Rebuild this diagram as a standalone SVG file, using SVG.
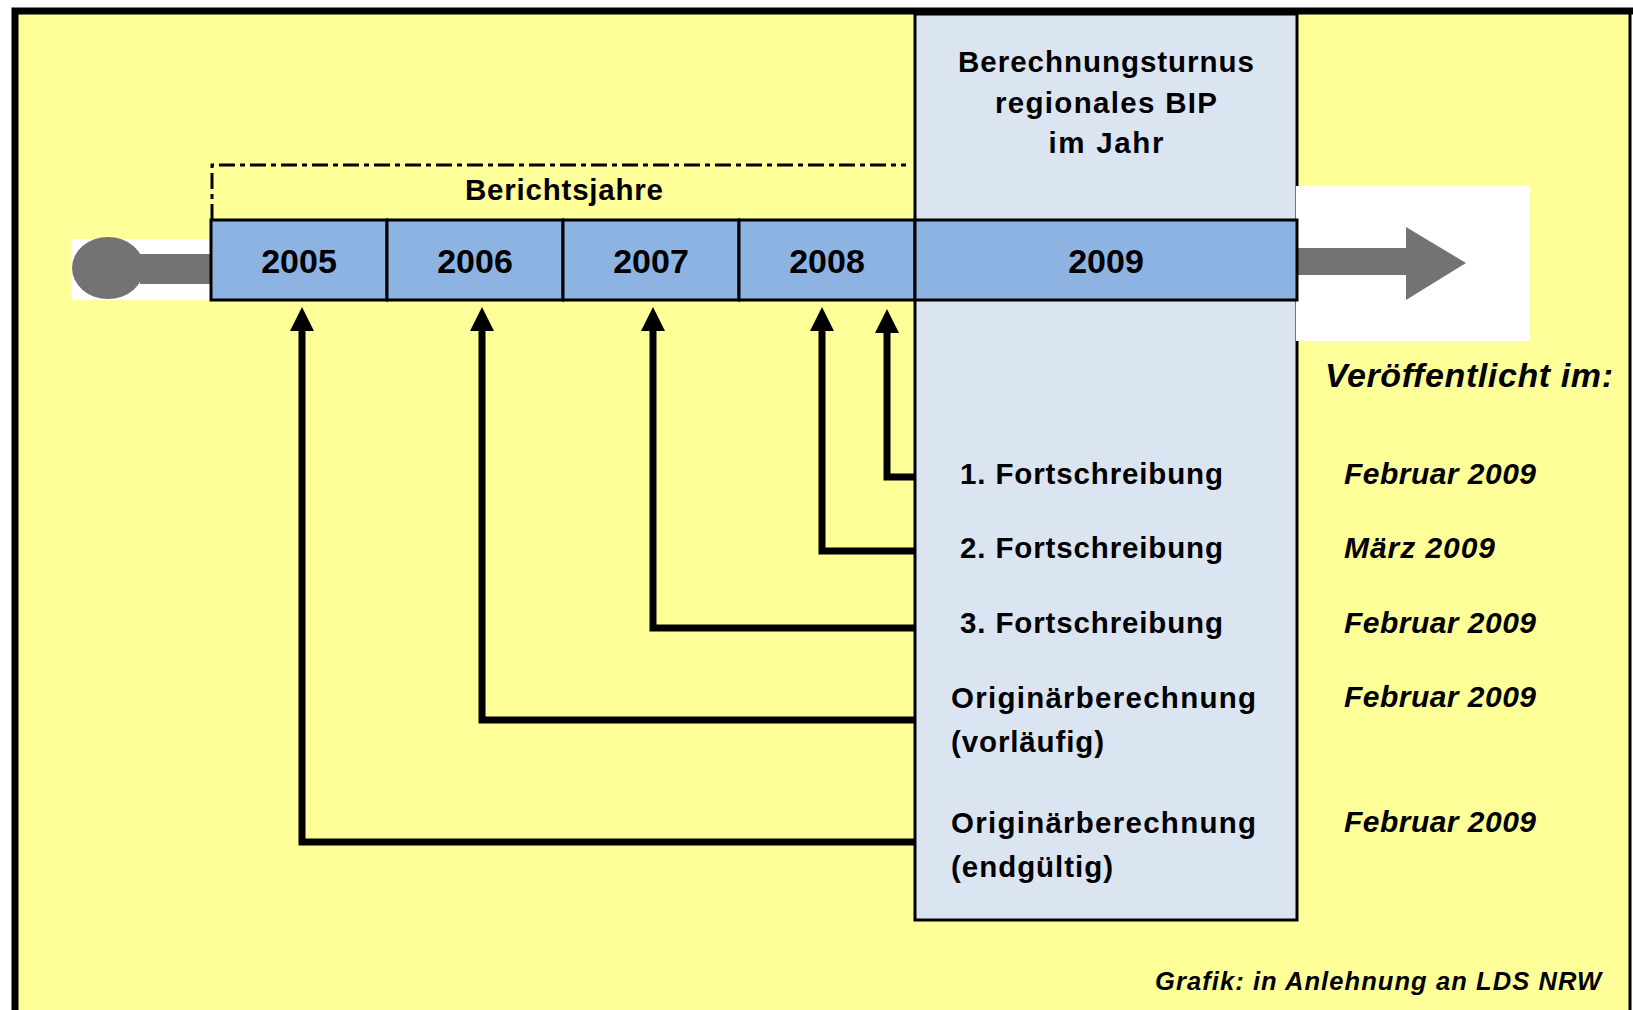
<svg xmlns="http://www.w3.org/2000/svg" width="1633" height="1010" viewBox="0 0 1633 1010">
<style>
.t{font-family:"Liberation Sans",Arial,sans-serif;font-weight:bold;fill:#000}
.yr{font-size:34px;text-anchor:middle}
.lbl{font-size:29.5px}
.pub{font-size:30px;font-style:italic}
.conn{fill:none;stroke:#000;stroke-width:7;stroke-linejoin:miter;marker-end:url(#ah)}
.cell{fill:#8DB3E2;stroke:#000;stroke-width:3}
</style>
<defs>
<marker id="ah" markerUnits="userSpaceOnUse" markerWidth="24" markerHeight="24" viewBox="0 0 23 23" refX="0" refY="11.5" orient="auto">
<path d="M0,0 L23,11.5 L0,23 z" fill="#000"/>
</marker>
</defs>
<rect x="0" y="0" width="1633" height="1010" fill="#fff"/>
<g id="frame">
<rect x="15" y="11" width="1615" height="1010" fill="#FFFF99"/>
<path d="M15,1010 V11 H1633" fill="none" stroke="#000" stroke-width="7"/>
<line x1="1630" y1="11" x2="1630" y2="1010" stroke="#000" stroke-width="3"/>
</g>
<g id="panel-2009">
<rect x="915" y="14" width="382" height="906" fill="#DBE5F1" stroke="#000" stroke-width="3"/>
<text class="t lbl" text-anchor="middle" x="1106" y="72" textLength="296" lengthAdjust="spacing">Berechnungsturnus</text>
<text class="t lbl" text-anchor="middle" x="1106" y="113" textLength="222" lengthAdjust="spacing">regionales BIP</text>
<text class="t lbl" text-anchor="middle" x="1106" y="153" textLength="115" lengthAdjust="spacing">im Jahr</text>
</g>
<g id="berichtsjahre">
<path d="M212,220 V165 H906" fill="none" stroke="#000" stroke-width="3" stroke-dasharray="16 5 5 5"/>
<text class="t lbl" x="465" y="200" textLength="198" lengthAdjust="spacing">Berichtsjahre</text>
</g>
<g id="start-symbol">
<rect x="71" y="239" width="140" height="61" fill="#fff"/>
<ellipse cx="108" cy="268" rx="36" ry="31" fill="#737373"/>
<rect x="140" y="254" width="71" height="30" fill="#737373"/>
</g>
<g id="end-arrow">
<rect x="1296" y="186" width="234" height="155" fill="#fff"/>
<rect x="1296" y="248" width="112" height="27" fill="#737373"/>
<polygon points="1406,227 1466,263 1406,300" fill="#737373"/>
</g>
<g id="timeline">
<g id="y2005"><rect class="cell" x="211" y="220" width="176" height="80"/><text class="t yr" x="299" y="273">2005</text></g>
<g id="y2006"><rect class="cell" x="387" y="220" width="176" height="80"/><text class="t yr" x="475" y="273">2006</text></g>
<g id="y2007"><rect class="cell" x="563" y="220" width="176" height="80"/><text class="t yr" x="651" y="273">2007</text></g>
<g id="y2008"><rect class="cell" x="739" y="220" width="176" height="80"/><text class="t yr" x="827" y="273">2008</text></g>
<g id="y2009"><rect class="cell" x="915" y="220" width="382" height="80"/><text class="t yr" x="1106" y="273">2009</text></g>
</g>
<g id="connectors">
<path class="conn" d="M915,477 H887 V333"/>
<path class="conn" d="M915,551 H822 V331"/>
<path class="conn" d="M915,628 H653 V331"/>
<path class="conn" d="M915,720 H482 V331"/>
<path class="conn" d="M915,842 H302 V331"/>
</g>
<g id="calc-labels">
<text class="t lbl" x="960" y="484" textLength="263" lengthAdjust="spacing">1. Fortschreibung</text>
<text class="t lbl" x="960" y="558" textLength="263" lengthAdjust="spacing">2. Fortschreibung</text>
<text class="t lbl" x="960" y="633" textLength="263" lengthAdjust="spacing">3. Fortschreibung</text>
<text class="t lbl" x="951" y="708" textLength="305" lengthAdjust="spacing">Originärberechnung</text>
<text class="t lbl" x="951" y="752" textLength="153" lengthAdjust="spacing">(vorläufig)</text>
<text class="t lbl" x="951" y="833" textLength="305" lengthAdjust="spacing">Originärberechnung</text>
<text class="t lbl" x="951" y="877" textLength="162" lengthAdjust="spacing">(endgültig)</text>
</g>
<g id="published">
<text class="t" font-size="34" font-style="italic" x="1325" y="387" textLength="288" lengthAdjust="spacing">Veröffentlicht im:</text>
<text class="t pub" x="1344" y="484" textLength="192" lengthAdjust="spacing">Februar 2009</text>
<text class="t pub" x="1344" y="558" textLength="151" lengthAdjust="spacing">März 2009</text>
<text class="t pub" x="1344" y="633" textLength="192" lengthAdjust="spacing">Februar 2009</text>
<text class="t pub" x="1344" y="707" textLength="192" lengthAdjust="spacing">Februar 2009</text>
<text class="t pub" x="1344" y="832" textLength="192" lengthAdjust="spacing">Februar 2009</text>
</g>
<g id="source">
<text class="t" font-size="25.5" font-style="italic" x="1155" y="990" textLength="446" lengthAdjust="spacing">Grafik: in Anlehnung an LDS NRW</text>
</g>
</svg>
